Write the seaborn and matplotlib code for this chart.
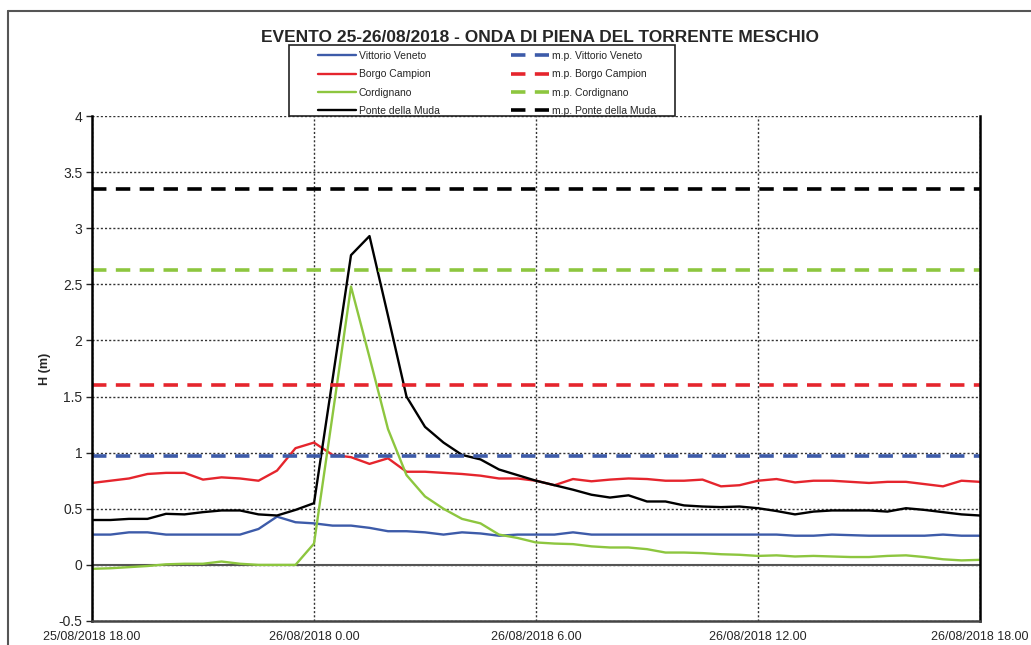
import pandas as pd
import matplotlib
matplotlib.use("Agg")
import matplotlib.pyplot as plt
import matplotlib.dates as mdates
from matplotlib.lines import Line2D
from matplotlib.patches import Rectangle
from matplotlib.ticker import FuncFormatter, MultipleLocator
import seaborn as sns

# livelli idrometrici ogni 30 minuti, 25/08/2018 18.00 -> 26/08/2018 18.00
inizio = pd.Timestamp("2018-08-25 18:00")
orari = pd.date_range(inizio, periods=49, freq="30min")

vittorio_veneto = [0.27, 0.27, 0.29, 0.29, 0.27, 0.27, 0.27, 0.27, 0.27, 0.32, 0.43, 0.38, 0.37,
                   0.35, 0.35, 0.33, 0.30, 0.30, 0.29, 0.27, 0.29, 0.28, 0.26, 0.27, 0.27,
                   0.27, 0.29, 0.27, 0.27, 0.27, 0.27, 0.27, 0.27, 0.27, 0.27, 0.27, 0.27,
                   0.27, 0.26, 0.26, 0.27, 0.265, 0.26, 0.26, 0.26, 0.26, 0.27, 0.26, 0.26]
borgo_campion = [0.73, 0.75, 0.77, 0.81, 0.82, 0.82, 0.76, 0.78, 0.77, 0.75, 0.84, 1.04, 1.09,
                 0.98, 0.96, 0.90, 0.95, 0.83, 0.83, 0.82, 0.81, 0.795, 0.77, 0.77, 0.75,
                 0.71, 0.765, 0.745, 0.76, 0.77, 0.765, 0.75, 0.75, 0.76, 0.70, 0.71, 0.75,
                 0.765, 0.735, 0.75, 0.75, 0.74, 0.73, 0.74, 0.74, 0.72, 0.70, 0.75, 0.74]
cordignano = [-0.035, -0.03, -0.02, -0.01, 0.005, 0.01, 0.01, 0.03, 0.01, 0.0, 0.0, 0.0, 0.19,
              1.33, 2.48, 1.85, 1.21, 0.80, 0.61, 0.50, 0.41, 0.37, 0.27, 0.24, 0.20,
              0.19, 0.185, 0.165, 0.155, 0.155, 0.14, 0.11, 0.11, 0.105, 0.095, 0.09, 0.08,
              0.085, 0.075, 0.08, 0.075, 0.07, 0.07, 0.08, 0.085, 0.07, 0.05, 0.04, 0.045]
ponte_della_muda = [0.40, 0.40, 0.41, 0.41, 0.455, 0.45, 0.47, 0.485, 0.485, 0.45, 0.44, 0.49, 0.55,
                    1.65, 2.76, 2.93, 2.22, 1.50, 1.23, 1.09, 0.98, 0.94, 0.85, 0.80, 0.75,
                    0.71, 0.67, 0.625, 0.60, 0.62, 0.565, 0.565, 0.53, 0.52, 0.515, 0.52, 0.505,
                    0.48, 0.45, 0.475, 0.485, 0.485, 0.485, 0.475, 0.505, 0.49, 0.47, 0.45, 0.44]

stazioni = ["Vittorio Veneto", "Borgo Campion", "Cordignano", "Ponte della Muda"]
livelli = [vittorio_veneto, borgo_campion, cordignano, ponte_della_muda]
# massima piena (m.p.) per stazione
massima_piena = [0.97, 1.60, 2.63, 3.35]
colori = ["#3d5ba9", "#e5252d", "#8dc63f", "#000000"]

df = pd.concat([pd.DataFrame({"ora": orari, "H": v, "stazione": s})
                for s, v in zip(stazioni, livelli)], ignore_index=True)

sns.set_style("white")
plt.rcParams["font.family"] = ["Liberation Sans", "DejaVu Sans"]

W, H = 1031, 645
fig = plt.figure(figsize=(W / 100, H / 100), dpi=100)
ax = fig.add_axes([92 / W, 1 - 621 / H, (980 - 92) / W, (621 - 116) / H])

ax.grid(True, color="#333333", ls=(0, (1.5, 1.5)), lw=1.0)
ax.axhline(0, color="#555555", lw=1.5, zorder=1.5)

sns.lineplot(data=df, x="ora", y="H", hue="stazione", hue_order=stazioni,
             palette=colori, lw=1.7, legend=False, ax=ax)
linee = ax.get_lines()[-4:]
for ln, s in zip(linee, stazioni):
    ln.set_label(s)

tratteggi = []
for s, v, c in zip(stazioni, massima_piena, colori):
    tratteggi.append(ax.axhline(v, color=c, lw=2.6, dashes=(4, 2.6), label="m.p. " + s))

ax.set_xlim(orari[0], orari[-1])
ax.set_ylim(-0.5, 4)
ax.yaxis.set_major_locator(MultipleLocator(0.5))
ax.yaxis.set_major_formatter(FuncFormatter(lambda v, p: f"{v:g}"))
ax.xaxis.set_major_locator(mdates.HourLocator(byhour=[0, 6, 12, 18]))


def fmt_ora(x, pos):
    d = mdates.num2date(x)
    return f"{d:%d/%m/%Y} {d.hour}.{d:%M}"


ax.xaxis.set_major_formatter(FuncFormatter(fmt_ora))
ax.tick_params(axis="x", length=0, pad=7, labelsize=9)
ax.tick_params(axis="y", length=4, direction="out", width=1, pad=3, labelsize=10, left=True)
ax.set_xlabel("")
ax.set_ylabel("H (m)", fontsize=9, fontweight="bold", labelpad=5)

for lato in ["left", "right"]:
    ax.spines[lato].set_color("black")
    ax.spines[lato].set_linewidth(1.8)
ax.spines["bottom"].set_color("#444444")
ax.spines["bottom"].set_linewidth(1.8)
ax.spines["top"].set_visible(False)

fig.text(540 / W, 1 - 37 / H, "EVENTO 25-26/08/2018 - ONDA DI PIENA DEL TORRENTE MESCHIO",
         ha="center", va="center", fontsize=12.5, fontweight="bold")

# cornice della legenda
fig.add_artist(Rectangle((289 / W, 1 - 116 / H), (675 - 289) / W, (116 - 45) / H,
                         transform=fig.transFigure, fill=True, facecolor="white",
                         edgecolor="#222222", lw=1.2, zorder=3))
leg = fig.legend(handles=list(linee) + tratteggi, ncol=2, loc="upper left",
                 bbox_to_anchor=(318 / W, 1 - 51 / H), frameon=False, fontsize=7.5,
                 borderpad=0, borderaxespad=0, handlelength=3.6, handletextpad=0.3,
                 labelspacing=0.8, columnspacing=6.9)
leg.set_zorder(4)

# cornice esterna
fig.add_artist(Line2D([8 / W, 8 / W], [0, 1 - 11 / H], color="#555555", lw=1.5))
fig.add_artist(Line2D([8 / W, 1], [1 - 11 / H, 1 - 11 / H], color="#555555", lw=1.5))

fig.savefig("out.png", dpi=100)
